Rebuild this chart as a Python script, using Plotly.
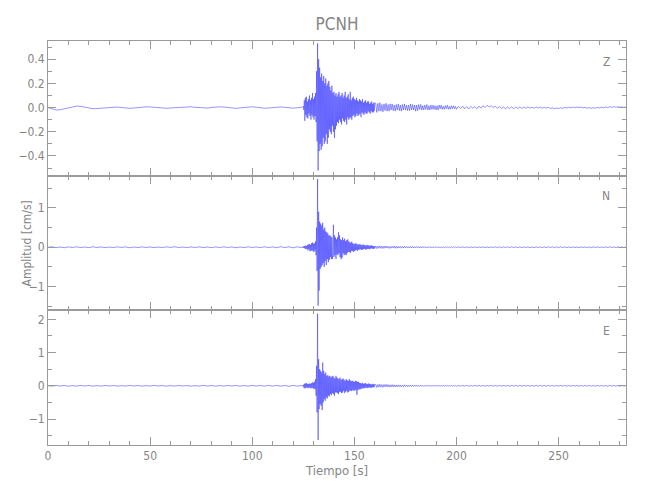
import numpy as np
import plotly.graph_objects as go
from plotly.subplots import make_subplots

title_text = "PCNH"
components = ["Z", "N", "E"]
x_label = "Tiempo [s]"
y_label = "Amplitud [cm/s]"

# sampling of the four segments (start, step)
seg_pre = (0.0, 2.0)
seg_event = (124.5, 0.25)
seg_coda = (160.5, 0.5)
seg_tail = (201.0, 1.0)

# ---------------- Z component ----------------
z_pre = [0.0, -0.01, -0.02, -0.018, -0.012, -0.005, 0.005, 0.012, 0.01, 0.003,
         -0.005, -0.01, -0.008, -0.005, 0.0, 0.003, 0.005, 0.004, 0.0, -0.004,
         -0.006, -0.004, 0.0, 0.004, 0.006, 0.005, 0.002, -0.002, -0.005, -0.006,
         -0.003, 0.0, 0.003, 0.006, 0.008, 0.006, 0.002, -0.002, -0.005, -0.004,
         0.0, 0.004, 0.006, 0.004, 0.0, -0.004, -0.006, -0.003, 0.002, 0.005,
         0.006, 0.003, -0.002, -0.005, -0.004, 0.0, 0.004, 0.005, 0.002, -0.003,
         -0.005, -0.002, 0.0]
z_event = [0.0, 0.005,
           0.01, -0.02, 0.06, -0.11,
           0.08, -0.06, 0.09, -0.08,
           0.05, -0.09, 0.07, -0.05,
           0.1, -0.07, 0.06, -0.1,
           0.08, -0.06, 0.12, -0.08,
           0.07, -0.1, 0.09, -0.07,
           0.12, -0.12, 0.3, -0.28,
           0.53, -0.52, 0.4, -0.36,
           0.33, -0.3, 0.25, -0.35,
           0.28, -0.32, 0.22, -0.25,
           0.26, -0.3, 0.2, -0.28,
           0.24, -0.22, 0.18, -0.3,
           0.2, -0.25, 0.22, -0.18,
           0.17, -0.2, 0.14, -0.22,
           0.18, -0.15, 0.12, -0.2,
           0.13, -0.25, 0.1, -0.18,
           0.12, -0.15, 0.09, -0.12,
           0.11, -0.13, 0.13, -0.1,
           0.09, -0.12, 0.1, -0.14,
           0.12, -0.09, 0.08, -0.11,
           0.1, -0.12, 0.13, -0.1,
           0.08, -0.14, 0.09, -0.08,
           0.11, -0.1, 0.07, -0.09,
           0.13, -0.08, 0.06, -0.1,
           0.08, -0.07, 0.09, -0.06,
           0.07, -0.08, 0.06, -0.07,
           0.08, -0.05, 0.06, -0.07,
           0.05, -0.06, 0.07, -0.05,
           0.06, -0.08, 0.05, -0.04,
           0.07, -0.05, 0.04, -0.06,
           0.05, -0.04, 0.06, -0.05,
           0.04, -0.05, 0.05, -0.03,
           0.05, -0.04, 0.03, -0.05,
           0.04, -0.03, 0.05, -0.04,
           0.03, -0.04, 0.04, -0.03,
           0.04]
z_coda = [0.03, -0.04, 0.035, -0.03, 0.04, -0.03, 0.025, -0.035,
          0.03, -0.025, 0.035, -0.03, 0.025, -0.03, 0.03, -0.02,
          0.03, -0.025, 0.02, -0.03, 0.025, -0.02, 0.03, -0.025,
          0.02, -0.03, 0.025, -0.02, 0.03, -0.02, 0.02, -0.025,
          0.02, -0.025, 0.03, -0.02, 0.025, -0.02, 0.02, -0.03,
          0.02, -0.025, 0.025, -0.015, 0.025, -0.02, 0.015, -0.02,
          0.02, -0.015, 0.025, -0.02, 0.015, -0.02, 0.02, -0.015,
          0.02, -0.015, 0.015, -0.02, 0.015, -0.02, 0.02, -0.01,
          0.02, -0.015, 0.01, -0.015, 0.015, -0.01, 0.02, -0.015,
          0.01, -0.015, 0.015, -0.01, 0.015, -0.01, 0.01, -0.015]
z_tail = [0.01, -0.008, 0.012, -0.01, 0.008, -0.012, 0.01, -0.006, 0.009, -0.01,
          0.012, -0.005, 0.015, 0.0, 0.018, 0.005, 0.015, 0.0, 0.01, -0.005,
          0.008, -0.008, 0.005, -0.01, 0.004, -0.008, 0.006, -0.01, 0.003, -0.007,
          0.005, -0.008, 0.004, -0.006, 0.006, -0.005, 0.003, -0.007, 0.005, -0.004,
          0.004, -0.006, 0.003, -0.005, 0.002, -0.008, -0.002, -0.01, -0.004, -0.008,
          -0.002, -0.006, 0.0, -0.004, 0.003, -0.003, 0.004, -0.002, 0.005, -0.001,
          0.004, -0.003, 0.002, -0.005, -0.001, -0.006, -0.002, -0.005, 0.001, -0.003,
          0.003, -0.002, 0.005, 0.0, 0.006, 0.002, 0.007, 0.003, 0.006, 0.002,
          0.005, 0.001, 0.004]

# ---------------- N component ----------------
n_pre = [0.0, 0.01, -0.01, 0.005, -0.012, 0.008, -0.005, 0.01, -0.008, 0.006,
         -0.01, 0.012, -0.006, 0.008, -0.01, 0.005, -0.008, 0.01, -0.005, 0.008,
         -0.012, 0.006, -0.008, 0.01, -0.006, 0.008, -0.01, 0.005, -0.008, 0.01,
         -0.005, 0.012, -0.008, 0.006, -0.01, 0.008, -0.006, 0.01, -0.008, 0.005,
         -0.01, 0.008, -0.006, 0.01, -0.005, 0.008, -0.012, 0.006, -0.008, 0.01,
         -0.006, 0.008, -0.01, 0.012, -0.008, 0.01, -0.012, 0.015, -0.01, 0.012,
         -0.015, 0.012, -0.01]
n_event = [0.01, -0.01,
           0.02, -0.02, 0.03, -0.03,
           0.04, -0.05, 0.03, -0.04,
           0.06, -0.08, 0.07, -0.05,
           0.08, -0.1, 0.06, -0.09,
           0.1, -0.08, 0.12, -0.1,
           0.09, -0.12, 0.1, -0.08,
           0.15, -0.2, 0.5, -0.6,
           1.73, -1.48, 0.9, -1.1,
           0.65, -0.55, 0.6, -0.5,
           0.55, -0.45, 0.62, -0.4,
           0.45, -0.5, 0.5, -0.35,
           0.4, -0.45, 0.38, -0.3,
           0.35, -0.38, 0.3, -0.32,
           0.3, -0.25, 0.28, -0.3,
           0.25, -0.3, -0.15, 0.57,
           -0.25, 0.3, -0.2, 0.25,
           -0.3, 0.2, -0.18, 0.25,
           -0.2, 0.38, -0.15, 0.3,
           -0.25, 0.2, -0.3, 0.18,
           -0.27, 0.25, -0.15, 0.18,
           -0.2, 0.22, -0.18, 0.15,
           -0.2, 0.18, -0.15, 0.2,
           -0.12, 0.15, -0.12, 0.12,
           -0.15, 0.12, -0.1, 0.14,
           -0.09, 0.1, -0.12, 0.08,
           -0.1, 0.09, -0.08, 0.1,
           -0.07, 0.08, -0.09, 0.07,
           -0.06, 0.07, -0.06, 0.08,
           -0.05, 0.06, -0.07, 0.05,
           -0.06, 0.07, -0.05, 0.06,
           -0.04, 0.05, -0.06, 0.04,
           -0.05, 0.06, -0.04, 0.05,
           -0.04, 0.04, -0.05, 0.04,
           -0.03, 0.05, -0.03, 0.04,
           -0.04, 0.03, -0.04, 0.03,
           -0.03]
n_coda = [0.03, -0.035, 0.03, -0.025, 0.035, -0.03, 0.025, -0.03,
          0.03, -0.025, 0.03, -0.02, 0.025, -0.03, 0.02, -0.025,
          0.025, -0.02, 0.03, -0.025, 0.02, -0.025, 0.025, -0.02,
          0.02, -0.025, 0.02, -0.02, 0.025, -0.015, 0.02, -0.02,
          0.015, -0.02, 0.02, -0.015, 0.02, -0.02, 0.015, -0.015,
          0.02, -0.015, 0.015, -0.02, 0.015, -0.015, 0.02, -0.012,
          0.015, -0.015, 0.012, -0.015, 0.015, -0.012, 0.012, -0.015,
          0.012, -0.012, 0.015, -0.01, 0.012, -0.012, 0.01, -0.012,
          0.012, -0.01, 0.01, -0.012, 0.01, -0.01, 0.012, -0.01,
          0.01, -0.01, 0.012, -0.01, 0.01, -0.012, 0.01, -0.01]
n_tail = [0.01, -0.008, 0.01, -0.01, 0.008, -0.01, 0.01, -0.008, 0.008, -0.01,
          0.01, -0.008, 0.012, -0.01, 0.008, -0.01, 0.01, -0.008, 0.01, -0.01,
          0.008, -0.01, 0.01, -0.008, 0.01, -0.01, 0.012, -0.008, 0.01, -0.01,
          0.008, -0.01, 0.01, -0.008, 0.01, -0.012, 0.008, -0.01, 0.01, -0.008,
          0.01, -0.01, 0.008, -0.01, 0.012, -0.008, 0.01, -0.01, 0.008, -0.01,
          0.01, -0.008, 0.01, -0.01, 0.008, -0.01, 0.012, -0.01, 0.008, -0.01,
          0.01, -0.008, 0.01, -0.01, 0.008, -0.012, 0.01, -0.008, 0.01, -0.01,
          0.008, -0.01, 0.01, -0.008, 0.012, -0.01, 0.008, -0.01, 0.01, -0.008,
          0.01, -0.01, 0.008]

# ---------------- E component ----------------
e_pre = [0.0, -0.008, 0.01, -0.006, 0.008, -0.01, 0.006, -0.008, 0.01, -0.005,
         0.008, -0.01, 0.006, -0.008, 0.01, -0.006, 0.008, -0.01, 0.005, -0.008,
         0.01, -0.006, 0.008, -0.01, 0.006, -0.008, 0.01, -0.005, 0.008, -0.01,
         0.006, -0.008, 0.01, -0.006, 0.008, -0.01, 0.005, -0.008, 0.01, -0.006,
         0.008, -0.01, 0.006, -0.008, 0.01, -0.005, 0.008, -0.01, 0.006, -0.008,
         0.01, -0.006, 0.008, -0.01, 0.012, -0.008, 0.01, -0.012, 0.01, -0.015,
         0.012, -0.01, 0.01]
e_event = [0.01, -0.01,
           0.03, -0.05, 0.06, -0.08,
           0.07, -0.06, 0.08, -0.05,
           0.06, -0.07, 0.05, -0.06,
           0.07, -0.05, 0.06, -0.08,
           0.08, -0.06, 0.1, -0.07,
           0.09, -0.1, 0.12, -0.09,
           0.2, -0.3, 0.6, -0.8,
           2.17, -1.63, 0.8, -0.7,
           0.5, -0.55, 0.45, -0.6,
           0.4, -0.73, 0.7, -0.5,
           0.45, -0.4, 0.35, -0.45,
           0.4, -0.35, 0.3, -0.38,
           0.32, -0.3, 0.28, -0.32,
           0.3, -0.25, 0.25, -0.28,
           0.28, -0.22, 0.3, -0.25,
           0.25, -0.3, 0.22, -0.2,
           0.3, -0.2, 0.25, -0.22,
           0.22, -0.25, 0.2, -0.18,
           0.25, -0.18, 0.18, -0.22,
           0.2, -0.2, 0.22, -0.15,
           0.18, -0.22, 0.15, -0.18,
           0.2, -0.15, 0.17, -0.2,
           0.15, -0.18, 0.2, -0.14,
           0.16, -0.15, 0.14, -0.16,
           0.15, -0.12, 0.13, -0.15,
           0.12, -0.14, 0.15, -0.12,
           0.14, -0.27, 0.12, -0.13,
           0.12, -0.1, 0.09, -0.11,
           0.08, -0.09, 0.07, -0.08,
           0.09, -0.07, 0.06, -0.08,
           0.07, -0.06, 0.08, -0.05,
           0.06, -0.07, 0.05, -0.06,
           0.07, -0.05, 0.06, -0.05,
           0.05, -0.06, 0.04, -0.05,
           0.06, -0.04, 0.05, -0.04,
           0.04]
e_coda = [0.04, -0.05, 0.04, -0.04, 0.05, -0.04, 0.035, -0.045,
          0.04, -0.035, 0.045, -0.03, 0.035, -0.04, 0.03, -0.035,
          0.035, -0.03, 0.03, -0.035, 0.025, -0.03, 0.03, -0.025,
          0.025, -0.03, 0.02, -0.025, 0.03, -0.02, 0.025, -0.025,
          0.02, -0.025, 0.025, -0.02, 0.02, -0.02, 0.025, -0.015,
          0.02, -0.02, 0.015, -0.02, 0.02, -0.015, 0.015, -0.02,
          0.015, -0.015, 0.02, -0.012, 0.015, -0.015, 0.012, -0.015,
          0.012, -0.012, 0.015, -0.01, 0.012, -0.012, 0.01, -0.012,
          0.012, -0.01, 0.01, -0.012, 0.01, -0.01, 0.012, -0.01,
          0.01, -0.01, 0.012, -0.01, 0.01, -0.01, 0.01, -0.01]
e_tail = [0.008, -0.01, 0.01, -0.008, 0.01, -0.01, 0.008, -0.01, 0.01, -0.008,
          0.01, -0.01, 0.008, -0.01, 0.012, -0.008, 0.01, -0.01, 0.008, -0.01,
          0.01, -0.008, 0.01, -0.01, 0.008, -0.01, 0.01, -0.008, 0.01, -0.01,
          0.008, -0.01, 0.01, -0.008, 0.01, -0.01, 0.008, -0.01, 0.01, -0.008,
          0.01, -0.01, 0.008, -0.01, 0.01, -0.008, 0.01, -0.01, 0.008, -0.01,
          0.01, -0.008, 0.01, -0.01, 0.008, -0.01, 0.01, -0.008, 0.01, -0.01,
          0.008, -0.01, 0.01, -0.008, 0.01, -0.01, 0.008, -0.01, 0.01, -0.008,
          0.01, -0.01, 0.008, -0.01, 0.01, -0.008, 0.01, -0.01, 0.008, -0.01,
          0.01, -0.008, 0.01]

# axis settings per panel
y_ranges = [[-0.563, 0.55], [-1.60, 1.815], [-1.78, 2.27]]
y_dticks = [0.2, 1.0, 1.0]
y_minor = [0.1, 0.5, 0.5]
y_formats = [".1f", "d", "d"]
x_range = [0, 283]


def build(pre, event, coda, tail):
    parts = []
    for (start, step), vals in zip([seg_pre, seg_event, seg_coda, seg_tail],
                                   [pre, event, coda, tail]):
        t = start + step * np.arange(len(vals))
        parts.append((t, np.asarray(vals, dtype=float)))
    t = np.concatenate([p[0] for p in parts])
    v = np.concatenate([p[1] for p in parts])
    return t, v


series = [build(z_pre, z_event, z_coda, z_tail),
          build(n_pre, n_event, n_coda, n_tail),
          build(e_pre, e_event, e_coda, e_tail)]

FONT = "Liberation Sans Narrow, DejaVu Sans Condensed, Arial Narrow, sans-serif"
GRAY = "#9a9a9a"
TXT = "#858585"

fig = make_subplots(rows=3, cols=1, shared_xaxes=True, vertical_spacing=0)

for i, (t, v) in enumerate(series):
    fig.add_trace(go.Scatter(x=t, y=v, mode="lines",
                             line=dict(color="#2a2aff", width=0.5),
                             showlegend=False, hoverinfo="skip"),
                  row=i + 1, col=1)
    fig.update_yaxes(range=y_ranges[i], dtick=y_dticks[i], tick0=0,
                     tickformat=y_formats[i], automargin=False,
                     ticks="inside", ticklen=8, tickcolor=GRAY, tickwidth=1,
                     minor=dict(dtick=y_minor[i], tick0=0, ticks="inside",
                                ticklen=4, tickcolor=GRAY),
                     showline=True, linecolor=GRAY, linewidth=1, mirror="ticks",
                     showgrid=False, zeroline=False,
                     tickfont=dict(family=FONT, size=12, color=TXT),
                     row=i + 1, col=1)
    fig.update_xaxes(range=x_range, dtick=50, tick0=0, automargin=False,
                     ticks="inside", ticklen=8, tickcolor=GRAY, tickwidth=1,
                     minor=dict(dtick=10, tick0=0, ticks="inside",
                                ticklen=4, tickcolor=GRAY),
                     showline=True, linecolor=GRAY, linewidth=1, mirror="ticks",
                     showgrid=False, zeroline=False,
                     showticklabels=(i == 2),
                     tickfont=dict(family=FONT, size=12, color=TXT),
                     row=i + 1, col=1)
    xref = "x domain" if i == 0 else f"x{i + 1} domain"
    yref = "y domain" if i == 0 else f"y{i + 1} domain"
    fig.add_annotation(text=components[i], xref=xref, yref=yref,
                       x=0.975, y=0.914, showarrow=False,
                       font=dict(family=FONT, size=12, color=TXT))

fig.add_annotation(text=y_label, xref="paper", yref="paper",
                   x=-0.02, y=0.5, xanchor="right", yanchor="middle",
                   textangle=-90, showarrow=False,
                   font=dict(family=FONT, size=12, color=TXT))

fig.update_layout(
    width=650, height=500,
    margin=dict(l=40, r=32, t=33, b=63),
    paper_bgcolor="white", plot_bgcolor="white",
    title=dict(text=title_text, x=0.5, xanchor="center", y=0.968,
               yanchor="middle", xref="paper",
               font=dict(family=FONT, size=17, color=TXT)),
)
fig.update_xaxes(title=dict(text=x_label, standoff=2,
                            font=dict(family=FONT, size=13, color=TXT)),
                 row=3, col=1)

fig.write_html("out.html")
